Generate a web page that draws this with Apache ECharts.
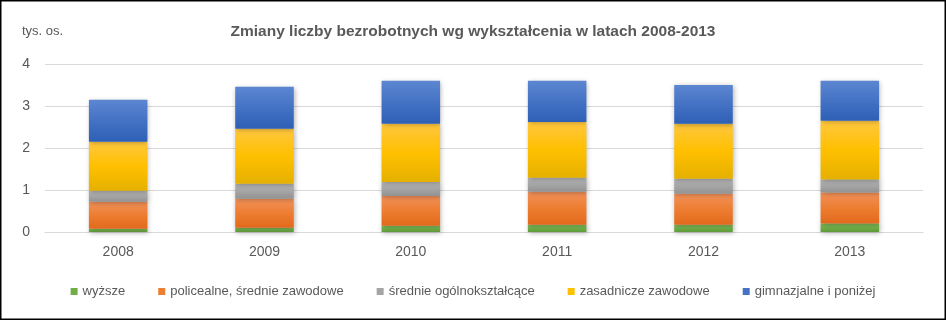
<!DOCTYPE html>
<html><head><meta charset="utf-8">
<script src="https://cdn.jsdelivr.net/npm/echarts@6/dist/echarts.min.js"></script>
<style>html,body{margin:0;padding:0;background:#fff}#c{width:946px;height:320px}</style>
</head><body><div id="c"></div>
<script>
const years = ['2008','2009','2010','2011','2012','2013'];
const seriesNames = ['wyższe','policealne, średnie zawodowe','średnie ogólnokształcące','zasadnicze zawodowe','gimnazjalne i poniżej'];
const wyzsze      = [0.08, 0.10, 0.15, 0.17, 0.17, 0.20];
const policealne  = [0.64, 0.69, 0.71, 0.79, 0.74, 0.74];
const srednie     = [0.26, 0.36, 0.33, 0.33, 0.36, 0.31];
const zasadnicze  = [1.17, 1.31, 1.39, 1.33, 1.31, 1.40];
const gimnazjalne = [1.00, 1.00, 1.02, 0.98, 0.92, 0.95];
const yTicks = [0,1,2,3,4];

const values = [wyzsze, policealne, srednie, zasadnicze, gimnazjalne];
const grads = [
  ['#7db85a','#70ad47','#5e9a38'],
  ['#f2915a','#ed7d31','#e2691b'],
  ['#b3b3b3','#a5a5a5','#929292'],
  ['#ffc73f','#ffc000','#e5b000'],
  ['#5c86d1','#4472c4','#2d60b6']
];
const legendColors = ['#70ad47','#ed7d31','#a5a5a5','#ffc000','#4472c4'];
const FONT = "'Liberation Sans Narrow','Arial Narrow','Liberation Sans',sans-serif";

const chart = echarts.init(document.getElementById('c'), null, {renderer:'canvas'});
chart.setOption({
  animation:false,
  title:{text:'Zmiany liczby bezrobotnych wg wykształcenia w latach 2008-2013',left:'center',top:19,
    textStyle:{fontFamily:FONT,fontSize:15.5,fontWeight:'bold',color:'#595959'}},
  legend:{bottom:17,left:'center',itemWidth:7,itemHeight:7,itemGap:33,icon:'rect',
    textStyle:{fontFamily:FONT,fontSize:13,color:'#595959'},
    data:seriesNames.map((n,i)=>({name:n,itemStyle:{color:legendColors[i]}}))},
  grid:{left:45,right:23,top:64,bottom:88},
  xAxis:{type:'category',data:years,axisLine:{lineStyle:{color:'#d9d9d9'}},axisTick:{show:false},
    axisLabel:{fontFamily:FONT,fontSize:14,color:'#595959',margin:13}},
  yAxis:{type:'value',min:yTicks[0],max:yTicks[yTicks.length-1],interval:1,name:'tys. os.',
    nameLocation:'end',nameGap:26,nameTextStyle:{fontFamily:FONT,fontSize:13,color:'#595959',align:'left',padding:[0,0,0,-23]},
    axisLabel:{fontFamily:FONT,fontSize:14,color:'#595959',margin:15},
    splitLine:{lineStyle:{color:'#d9d9d9'}},axisLine:{show:false},axisTick:{show:false}},
  series:seriesNames.map((n,i)=>({
    name:n,type:'bar',stack:'t',barWidth:'40%',data:values[i],
    itemStyle:{color:{type:'linear',x:0,y:0,x2:0,y2:1,colorStops:[
      {offset:0,color:grads[i][0]},{offset:0.5,color:grads[i][1]},{offset:1,color:grads[i][2]}]},
      shadowBlur:5,shadowColor:'rgba(0,0,0,0.3)',shadowOffsetX:1,shadowOffsetY:1}
  })),
  graphic:[{type:'rect',shape:{x:0.75,y:0.75,width:944.5,height:318.5},
    style:{fill:'none',stroke:'#000',lineWidth:1.5},z:100}]
});
</script></body></html>
